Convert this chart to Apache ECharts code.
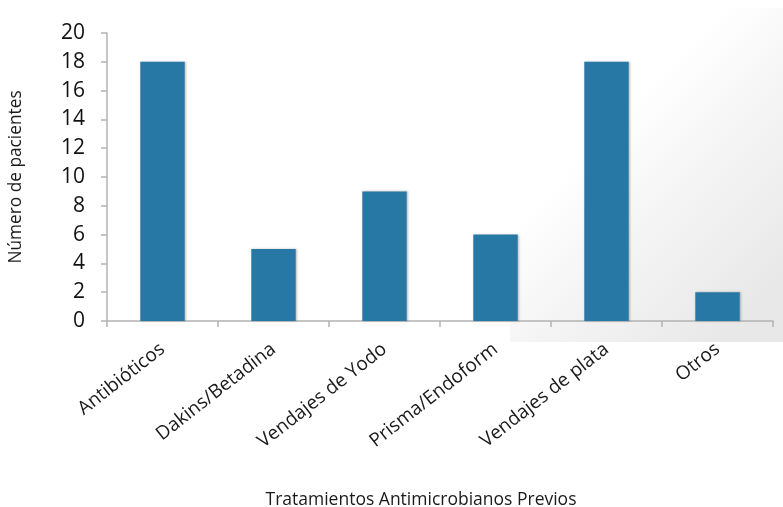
<!DOCTYPE html>
<html>
<head>
<meta charset="utf-8">
<script src="https://cdn.jsdelivr.net/npm/echarts@6/dist/echarts.min.js"></script>
<style>
  html, body { margin: 0; padding: 0; background: #ffffff; }
  #chart { width: 783px; height: 507px; }
</style>
</head>
<body>
<div id="chart"></div>
<script>
// Tratamientos antimicrobianos previos: número de pacientes por tratamiento
const categories = ['Antibióticos', 'Dakins/Betadina', 'Vendajes de Yodo', 'Prisma/Endoform', 'Vendajes de plata', 'Otros'];
const pacientes = [18, 5, 9, 6, 18, 2];
const yTicks = { min: 0, max: 20, interval: 2 };

const FONT = '"Open Sans", "Liberation Sans", sans-serif';
const chart = echarts.init(document.getElementById('chart'), null, { renderer: 'canvas' });

chart.setOption({
  backgroundColor: '#ffffff',
  animation: false,
  graphic: [{
    type: 'rect',
    z: -10,
    silent: true,
    shape: { x: 510, y: 8, width: 273, height: 334 },
    style: {
      fill: {
        type: 'linear', x: 0, y: 0, x2: 1, y2: 0.8,
        colorStops: [
          { offset: 0, color: 'rgba(234,234,234,0)' },
          { offset: 0.4, color: 'rgba(234,234,234,0)' },
          { offset: 0.65, color: 'rgba(234,234,234,0.5)' },
          { offset: 1, color: 'rgba(232,232,232,1)' }
        ]
      }
    }
  }],
  grid: { left: 107, right: 10, top: 33, bottom: 186, containLabel: false, outerBoundsMode: 'none' },
  xAxis: {
    type: 'category',
    data: categories,
    name: 'Tratamientos Antimicrobianos Previos',
    nameLocation: 'middle',
    nameGap: 170,
    nameTextStyle: { fontFamily: FONT, fontSize: 17.5, color: '#1a1a1a', padding: [0, 38, 0, 0] },
    axisLine: { lineStyle: { color: '#b3b3b3', width: 1.5 } },
    axisTick: { show: true, length: 6, lineStyle: { color: '#b3b3b3', width: 1.5 } },
    axisLabel: {
      rotate: 38,
      margin: 26,
      interval: 0,
      fontFamily: FONT,
      fontSize: 19,
      color: '#1a1a1a'
    }
  },
  yAxis: {
    type: 'value',
    min: yTicks.min,
    max: yTicks.max,
    interval: yTicks.interval,
    name: 'Número de pacientes',
    nameLocation: 'middle',
    nameGap: 82,
    nameTextStyle: { fontFamily: FONT, fontSize: 17.3, color: '#1a1a1a' },
    axisLine: { show: true, lineStyle: { color: '#b3b3b3', width: 1.5 } },
    axisTick: { show: true, length: 6, lineStyle: { color: '#b3b3b3', width: 1.5 } },
    splitLine: { show: false },
    axisLabel: {
      margin: 22,
      fontFamily: FONT,
      fontSize: 21,
      color: '#111111'
    }
  },
  series: [{
    type: 'bar',
    data: pacientes,
    barWidth: '40%',
    itemStyle: {
      color: '#2878a5',
      shadowColor: 'rgba(0,0,0,0.25)',
      shadowBlur: 2,
      shadowOffsetX: 1,
      shadowOffsetY: 0
    }
  }]
});
</script>
</body>
</html>
